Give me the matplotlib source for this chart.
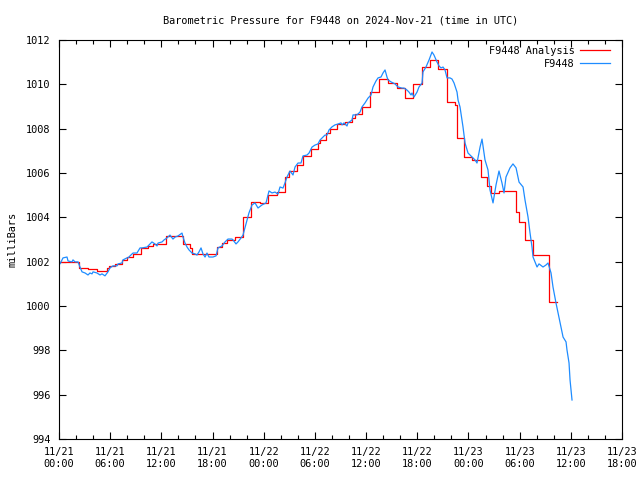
import matplotlib
matplotlib.use("Agg")
import matplotlib.pyplot as plt
import matplotlib.dates as mdates
from matplotlib.ticker import MultipleLocator
from datetime import datetime, timedelta

title = "Barometric Pressure for F9448 on 2024-Nov-21 (time in UTC)"
ylabel = "milliBars"
series_names = ["F9448 Analysis", "F9448"]
start = datetime(2024, 11, 21, 0, 0)

# Observations (hours since start, mb)
obs_hours = [0.00, 0.12, 0.47, 0.94, 1.06, 1.52, 1.64, 1.88, 2.23, 2.46, 2.70, 3.05, 3.40, 3.63,
             3.87, 3.99, 4.45, 4.81, 5.04, 5.39, 5.74, 5.98, 6.33, 6.80, 6.92, 7.39, 7.50, 7.97,
             8.09, 8.32, 8.68, 9.14, 9.50, 9.73, 10.32, 10.67, 10.90, 11.25, 11.49, 11.61, 12.08,
             12.31, 12.66, 13.01, 13.36, 13.60, 13.95, 14.42, 14.54, 14.77, 15.01, 15.24, 15.59,
             15.94, 16.18, 16.41, 16.65, 16.88, 17.12, 17.35, 17.58, 18.05, 18.41, 18.64, 19.11,
             19.46, 19.81, 20.28, 20.40, 20.75, 20.98, 21.34, 21.57, 21.92, 22.27, 22.63, 22.98,
             23.33, 23.80, 24.27, 24.62, 24.97, 25.32, 25.67, 25.91, 26.26, 26.49, 26.73, 27.08,
             27.43, 27.67, 28.02, 28.37, 28.60, 29.07, 29.31, 29.66, 30.01, 30.36, 30.60, 31.18,
             31.42, 31.65, 32.00, 32.35, 32.71, 33.06, 33.18, 33.41, 33.76, 33.88, 34.35, 34.47,
             34.93, 35.29, 35.52, 35.87, 36.23, 36.58, 36.81, 37.16, 37.40, 37.75, 37.98, 38.22,
             38.45, 38.57, 38.92, 39.39, 39.74, 40.21, 40.45, 40.80, 41.03, 41.27, 41.38, 41.62,
             41.97, 42.20, 42.56, 42.67, 43.02, 43.38, 43.73, 43.96, 44.31, 44.55, 44.78, 45.02,
             45.25, 45.49, 45.84, 46.07, 46.31, 46.66, 46.78, 47.01, 47.36, 47.60, 47.95, 48.42,
             48.77, 49.00, 49.36, 49.59, 49.94, 50.29, 50.53, 50.88, 51.23, 51.58, 51.93, 52.17,
             52.40, 52.87, 53.22, 53.58, 53.93, 54.40, 54.63, 54.98, 55.22, 55.45, 55.57, 56.04,
             56.27, 56.74, 57.09, 57.33, 57.68, 57.91, 58.26, 58.50, 58.73, 59.09, 59.44, 59.55,
             59.79, 59.91, 60.14]
obs_mb = [1001.94, 1001.90, 1002.17, 1002.21, 1002.03, 1001.99, 1002.08, 1001.99, 1001.99, 1001.76,
          1001.54, 1001.49, 1001.40, 1001.49, 1001.45, 1001.54, 1001.49, 1001.40, 1001.45, 1001.36,
          1001.54, 1001.72, 1001.81, 1001.81, 1001.90, 1001.94, 1002.08, 1002.17, 1002.17, 1002.26,
          1002.39, 1002.39, 1002.62, 1002.62, 1002.66, 1002.80, 1002.89, 1002.80, 1002.71, 1002.84,
          1002.89, 1002.98, 1003.07, 1003.20, 1003.02, 1003.11, 1003.16, 1003.29, 1003.11, 1002.84,
          1002.66, 1002.53, 1002.39, 1002.35, 1002.30, 1002.44, 1002.62, 1002.35, 1002.21, 1002.39,
          1002.21, 1002.21, 1002.26, 1002.62, 1002.71, 1002.89, 1003.02, 1003.02, 1002.98, 1002.80,
          1002.89, 1003.07, 1003.20, 1003.70, 1004.20, 1004.56, 1004.65, 1004.42, 1004.56, 1004.65,
          1005.19, 1005.10, 1005.14, 1005.05, 1005.37, 1005.32, 1005.55, 1005.82, 1006.09, 1005.91,
          1006.27, 1006.45, 1006.45, 1006.77, 1006.81, 1006.90, 1007.17, 1007.26, 1007.31, 1007.49,
          1007.71, 1007.71, 1007.94, 1008.08, 1008.17, 1008.21, 1008.26, 1008.17, 1008.26, 1008.12,
          1008.26, 1008.39, 1008.62, 1008.62, 1008.75, 1008.98, 1009.16, 1009.38, 1009.52, 1009.88,
          1010.15, 1010.29, 1010.33, 1010.51, 1010.65, 1010.33, 1010.20, 1010.11, 1010.02, 1009.88,
          1009.83, 1009.83, 1009.74, 1009.65, 1009.52, 1009.61, 1009.43, 1009.65, 1009.88, 1010.06,
          1010.56, 1010.78, 1011.10, 1011.46, 1011.32, 1011.01, 1010.83, 1010.74, 1010.78, 1010.65,
          1010.29, 1010.29, 1010.24, 1010.06, 1009.65, 1009.29, 1008.98, 1008.08, 1007.35, 1006.90,
          1006.72, 1006.59, 1006.45, 1007.17, 1007.53, 1006.59, 1006.14, 1005.23, 1004.65, 1005.46,
          1006.09, 1005.55, 1005.10, 1005.82, 1006.23, 1006.41, 1006.23, 1005.59, 1005.37, 1004.78,
          1004.02, 1003.29, 1002.66, 1002.21, 1001.76, 1001.90, 1001.76, 1001.85, 1001.94, 1001.49,
          1000.86, 1000.14, 999.69, 999.24, 998.60, 998.38, 998.02, 997.43, 996.66, 995.76]

# Analysis (step values: hours since start, mb)
ana_hours = [0.00, 2.34, 3.40, 4.45, 5.63, 5.86, 6.57, 7.39, 7.97, 8.68, 9.61, 10.43, 11.02, 12.54,
             14.54, 15.36, 15.59, 18.52, 19.11, 19.70, 20.63, 21.57, 22.51, 23.56, 24.50, 25.56,
             26.49, 26.96, 27.90, 28.60, 29.54, 30.36, 30.60, 31.30, 31.77, 32.59, 33.53, 34.35,
             34.70, 35.52, 36.46, 37.51, 38.57, 39.62, 40.56, 41.50, 42.56, 43.49, 44.43, 45.49,
             46.42, 46.66, 47.48, 48.42, 49.47, 50.18, 50.65, 51.58, 53.58, 53.93, 54.63, 55.57,
             57.44, 58.38]
ana_mb = [1002.00, 1001.70, 1001.66, 1001.57, 1001.73, 1001.82, 1001.90, 1002.08, 1002.20, 1002.33,
          1002.60, 1002.72, 1002.78, 1003.17, 1002.78, 1002.63, 1002.33, 1002.68, 1002.83, 1003.00,
          1003.10, 1004.00, 1004.70, 1004.65, 1005.00, 1005.15, 1005.80, 1006.10, 1006.35, 1006.75,
          1007.10, 1007.35, 1007.50, 1007.80, 1008.00, 1008.20, 1008.30, 1008.50, 1008.66, 1009.00,
          1009.65, 1010.25, 1010.05, 1009.85, 1009.40, 1010.00, 1010.80, 1011.10, 1010.70, 1009.20,
          1009.05, 1007.60, 1006.70, 1006.60, 1005.80, 1005.40, 1005.10, 1005.20, 1004.25, 1003.80,
          1003.00, 1002.30, 1000.20, 1000.20]

FONT = "DejaVu Sans Mono"
FS = 7.4
plt.rcParams['font.family'] = FONT

fig = plt.figure(figsize=(6.4, 4.8), dpi=100)
ax = fig.add_axes([59/640, 41/480, 563/640, 399/480])

obs_t = [start + timedelta(hours=h) for h in obs_hours]
ana_t = [start + timedelta(hours=h) for h in ana_hours]

ax.plot(ana_t, ana_mb, drawstyle='steps-post', color='#ff0000', lw=0.9, label=series_names[0])
ax.plot(obs_t, obs_mb, color='#1e8cff', lw=0.9, label=series_names[1])

ax.set_xlim(start, start + timedelta(hours=66))
ax.set_ylim(994, 1012)
ax.yaxis.set_major_locator(MultipleLocator(2))
ax.xaxis.set_major_locator(mdates.HourLocator(byhour=[0, 6, 12, 18]))
ax.xaxis.set_minor_locator(mdates.HourLocator(byhour=range(0, 24, 2)))
ax.xaxis.set_major_formatter(mdates.DateFormatter('%m/%d\n%H:%M'))

ax.tick_params(axis='both', which='both', direction='in', top=True, right=True,
               labelsize=FS, width=0.8, color='black')
ax.tick_params(axis='both', which='major', length=5, pad=6)
ax.tick_params(axis='x', which='minor', length=3)
for lab in ax.get_xticklabels():
    lab.set_linespacing(1.25)
for s in ax.spines.values():
    s.set_linewidth(0.8)

ax.set_title(title, fontsize=FS, pad=12)
ax.set_ylabel(ylabel, fontsize=FS, labelpad=6)

leg = ax.legend(loc='upper right', bbox_to_anchor=(1 - 5.5/563, 1.0 + 1/399),
                frameon=False, markerfirst=False, fontsize=FS,
                handlelength=2.9, handletextpad=0.55, labelspacing=0.28,
                borderaxespad=0.25, borderpad=0.4)
for t in leg.get_texts():
    t.set_ha('right')

fig.savefig('out.png', dpi=100)
